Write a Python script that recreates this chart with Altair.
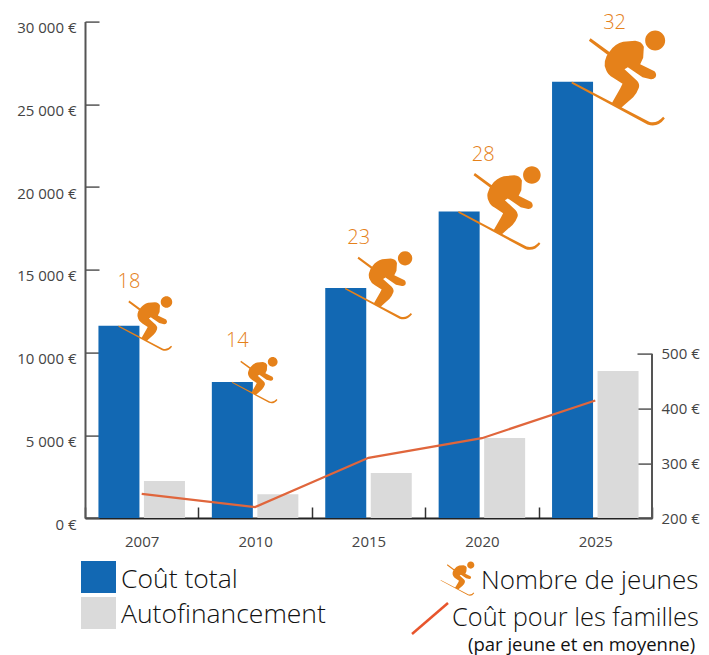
import altair as alt
import pandas as pd

years = ["2007", "2010", "2015", "2020", "2025"]
total_cost = [11620, 8220, 13900, 18530, 26360]
self_funding = [2240, 1430, 2720, 4840, 8890]
young_people = [18, 14, 23, 28, 32]
family_cost = [244, 220, 310, 346, 415]

SERIES = ["Coût total", "Autofinancement"]
BLUE, GREY, ORANGE, RED = "#1268B3", "#DADADA", "#E5811A", "#E0663C"
W, H = 567, 496.4
FONT = "Open Sans"

SKIER = (
    "M-2 -1L230 120Q252 127 272 105L277 110Q255 139 225 128L-3 5Z"
    "M54 -131L118 -84L112 -76L49 -123Z"
    "M112 -92Q128 -114 152 -120L188 -123Q208 -121 214 -105L212 -72L203 -53L246 -32Q254 -23 249 -14"
    "Q243 -7 235 -8L210 -14L166 -44L156 -38L192 -5Q203 6 199 18Q194 33 182 46L146 78L116 67L143 20"
    "L150 6L122 -12Q106 -21 101 -35Q94 -48 97 -62Q101 -80 112 -92Z"
    "M218 -124a30 30 0 1 0 60 0a30 30 0 1 0 -60 0Z"
)

bars_df = pd.DataFrame({
    "year": years * 2,
    "series": [SERIES[0]] * 5 + [SERIES[1]] * 5,
    "value": total_cost + self_funding,
})
top_df = pd.DataFrame({"year": years, "series": SERIES[0], "value": total_cost, "n": young_people})
line_df = pd.DataFrame({"year": years, "cost": family_cost})
domain_df = pd.DataFrame({"cost": [200], "end": [500]})

x = alt.X("year:N", sort=years, title=None, scale=alt.Scale(paddingInner=0, paddingOuter=0),
          axis=alt.Axis(orient="top", offset=-H, tickBand="extent", tickSize=11, tickWidth=1.5, tickColor="#333",
                        domainColor="#222", domainWidth=2, labelAngle=0, labelBaseline="middle", labelPadding=-34,
                        labelFont=FONT, labelFontSize=15, labelFontWeight=500, labelColor="#444", grid=False))
x_off = alt.XOffset("series:N", scale=alt.Scale(domain=SERIES, paddingInner=0.099, paddingOuter=0.2955))
y_left = alt.Y("value:Q", title=None, scale=alt.Scale(domain=[0, 30000], nice=False),
               axis=alt.Axis(orient="right", offset=-W, values=[0, 5000, 10000, 15000, 20000, 25000, 30000],
                             tickSize=14, tickWidth=1.5, tickColor="#555", domainColor="#555", domainWidth=2,
                             labelAlign="right", labelPadding=-23, labelOffset=6, labelFont=FONT, labelFontSize=15,
                             labelFontWeight=500, labelColor="#444", grid=False,
                             labelExpr="replace(format(datum.value, ',d'), ',', ' ') + ' €'"))

bars = alt.Chart(bars_df).mark_bar().encode(
    x=x, xOffset=x_off, y=y_left,
    color=alt.Color("series:N", scale=alt.Scale(domain=SERIES, range=[BLUE, GREY]), legend=None),
)
icons = alt.Chart(top_df).mark_point(shape=SKIER, filled=True, opacity=1, strokeWidth=0, color=ORANGE).encode(
    x=alt.X("year:N", sort=years), xOffset=x_off, y=alt.Y("value:Q"),
    size=alt.Size("n:Q", legend=None, scale=alt.Scale(domain=[14, 18, 23, 28, 32],
                                                      range=[0.106, 0.147, 0.229, 0.344, 0.444])),
)
label_shift = {18: (10, -44), 14: (5, -41), 23: (13, -50), 28: (24, -56), 32: (42, -59)}
labels = [
    alt.Chart(top_df[top_df.n == n]).mark_text(font=FONT, fontSize=20, fontWeight=300, color=ORANGE, dx=d[0], dy=d[1]).encode(
        x=alt.X("year:N", sort=years), xOffset=x_off, y=alt.Y("value:Q"), text="n:N")
    for n, d in label_shift.items()
]
left = alt.layer(bars, icons, *labels)

y_right = alt.Y("cost:Q", title=None, scale=alt.Scale(domain=[200, 1108], nice=False),
                axis=alt.Axis(orient="left", offset=-W, values=[200, 300, 400, 500], domain=False, tickSize=15,
                              tickWidth=1.5, tickColor="#555", labelAlign="left", labelPadding=-24, labelFont=FONT,
                              labelFontSize=15, labelFontWeight=500, labelColor="#444", grid=False,
                              labelExpr="datum.value + ' €'"))
line = alt.Chart(line_df).mark_line(color=RED, strokeWidth=2.2).encode(x=alt.X("year:N", sort=years), y=y_right)
right_domain = alt.Chart(domain_df).mark_rule(color="#555", strokeWidth=2).encode(
    x=alt.value(W), y=y_right, y2="end:Q")
right = alt.layer(line, right_domain)


def swatch(py, color):
    return alt.Chart(pd.DataFrame({"a": [0]})).mark_rect(color=color).encode(
        x=alt.value(81 - 85), x2=alt.value(116 - 85), y=alt.value(py), y2=alt.value(py + 32))


def caption(text, px, py, size, weight=300):
    return alt.Chart(pd.DataFrame({"t": [text]})).mark_text(
        font=FONT, fontSize=size, fontWeight=weight, color="#111", align="left", baseline="middle"
    ).encode(x=alt.value(px - 85), y=alt.value(py - 21.6), text="t:N")


key = [
    swatch(561 - 21.6, BLUE),
    swatch(597 - 21.6, GREY),
    caption(SERIES[0], 121, 580, 26.5),
    caption(SERIES[1], 121, 615, 26.5),
    caption("Nombre de jeunes", 481, 581, 26),
    caption("Coût pour les familles", 452, 618, 25.4),
    caption("(par jeune et en moyenne)", 468, 645, 18.5, 400),
    alt.Chart(pd.DataFrame({"a": [0]})).mark_point(shape=SKIER, filled=True, opacity=1, strokeWidth=0, color=ORANGE, size=0.0576).encode(
        x=alt.value(441 - 85), y=alt.value(580 - 21.6)),
    alt.Chart(pd.DataFrame({"a": [0]})).mark_rule(color="#E8552C", strokeWidth=2.5).encode(
        x=alt.value(412 - 85), x2=alt.value(448 - 85), y=alt.value(634 - 21.6), y2=alt.value(603 - 21.6)),
]

chart = alt.layer(left, right, *key).resolve_scale(y="independent", size="independent").properties(
    width=W, height=H,
    autosize=alt.AutoSizeParams(type="none"),
    padding={"left": 77, "top": 13.6, "right": 49, "bottom": 137},
).configure_view(stroke=None)

chart.save("out.html", embed_options={"renderer": "svg", "actions": False})
